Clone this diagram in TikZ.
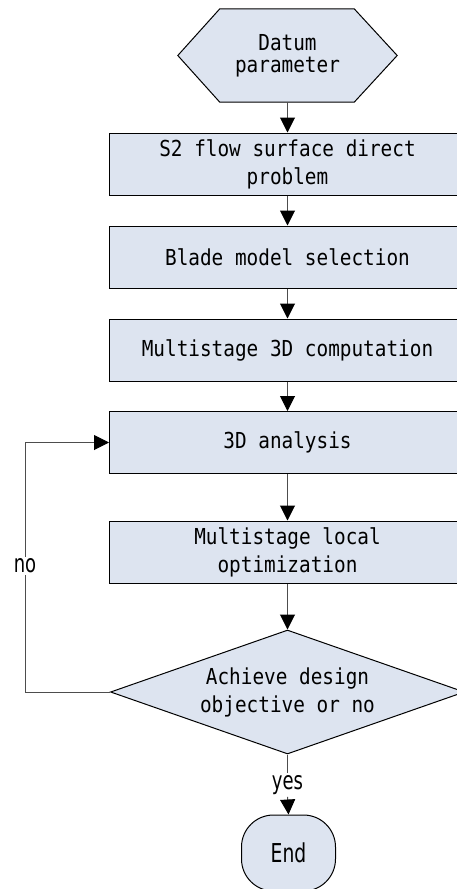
\documentclass[tikz,border=0pt]{standalone}
\usepackage{fontspec}
\newfontfamily\boxfont[FakeStretch=0.88]{DejaVu Sans Mono}
\newfontfamily\lblfont[FakeStretch=0.72]{DejaVu Sans}
\usetikzlibrary{arrows.meta,shapes.geometric,backgrounds}
\definecolor{boxfill}{HTML}{DDE4F0}
\definecolor{lineclr}{HTML}{4D4D4D}
\begin{document}
\begin{tikzpicture}[x=1pt,y=-1pt,
  procbox/.style={draw=black, line width=1pt, fill=boxfill, minimum width=356pt, minimum height=62pt, inner sep=0pt, align=center, font=\boxfont\fontsize{22}{28}\selectfont},
  conn/.style={draw=lineclr, line width=1pt},
  arr/.style={conn, -{Triangle[width=15pt,length=15pt,color=black]}},
  lbl/.style={font=\lblfont\fontsize{25}{28}\selectfont, fill=white, inner sep=2pt}]
\useasboundingbox (0,0) rectangle (457,889);

\node[minimum width=219pt, minimum height=93pt, inner sep=0pt, align=center, font=\boxfont\fontsize{22}{22}\selectfont] (hex) at (287.5,55.5) {Datum\\parameter};
\node[procbox] (s2) at (287.5,164) {S2 flow surface direct\\problem};
\node[procbox] (blade) at (287.5,257) {Blade model selection};
\node[procbox] (comp) at (287.5,350) {Multistage 3D computation};
\node[procbox] (ana) at (287.5,442.5) {3D analysis};
\node[procbox] (loc) at (287.5,552) {Multistage local\\optimization};
\node[diamond, aspect=2.85, draw=black, line width=1pt, fill=boxfill, minimum width=354pt, minimum height=124pt, inner sep=0pt, align=center, font=\boxfont\fontsize{22}{28}\selectfont] (dia) at (287.5,692) {Achieve design\\objective or no};
\node[draw=black, line width=1pt, fill=boxfill, rounded corners=32pt, minimum width=94pt, minimum height=76pt, font=\lblfont\fontsize{26}{28}\selectfont] (endn) at (288.5,853) {End};
\node[lbl] (yes) at (287.5,785) {yes};
\node[lbl] (no) at (25,566) {no};

\begin{scope}[on background layer]
\fill[white] (0,0) rectangle (457,889);
\draw[black, line width=1pt, fill=boxfill] (hex.west) -- ([xshift=42pt]hex.north west) -- ([xshift=-43pt]hex.north east) -- (hex.east) -- ([xshift=-43pt]hex.south east) -- ([xshift=42pt]hex.south west) -- cycle;
\end{scope}

\draw[arr] (hex.south) -- (s2.north);
\draw[arr] (s2.south) -- (blade.north);
\draw[arr] (blade.south) -- (comp.north);
\draw[arr] (comp.south) -- (ana.north);
\draw[arr] (ana.south) -- (loc.north);
\draw[arr] (loc.south) -- (dia.north);
\draw[conn] (dia.south) -- (yes.north);
\draw[arr] (yes.south) -- (endn.north);
\draw[conn] (dia.west) -| (no.south);
\draw[arr] (no.north) |- (ana.west);
\end{tikzpicture}
\end{document}
